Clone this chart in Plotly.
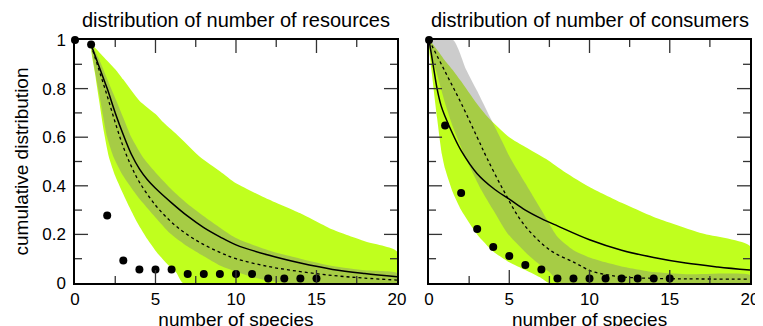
"""Cumulative distributions of resources / consumers per species."""

import plotly.graph_objects as go

# observed points (same for both panels: x = number of species)
pts_x = list(range(16))
res_pts_y = [1.0, 0.981, 0.278, 0.093, 0.056, 0.056, 0.056, 0.037, 0.037, 0.037,
             0.037, 0.037, 0.0185, 0.0185, 0.0185, 0.0185]
con_pts_y = [1.0, 0.648, 0.370, 0.222, 0.148, 0.111, 0.074, 0.056, 0.0185, 0.0185,
             0.0185, 0.0185, 0.0185, 0.0185, 0.0185, 0.0185]

# resources panel: bands and model curves
res_green_up_x = [1, 1.5, 2, 2.5, 3, 4, 5, 5.5, 6.5, 7.75, 9, 10, 12, 14, 16, 18, 20]
res_green_up_y = [0.98, 0.95, 0.915, 0.88, 0.837, 0.75, 0.695, 0.66, 0.6, 0.52, 0.46,
                  0.41, 0.345, 0.287, 0.22, 0.172, 0.13]
res_green_lo_x = [1, 1.25, 1.5, 1.8, 2.1, 2.5, 2.9, 3.4, 3.9, 4.5, 5.1, 5.7, 6.3, 6.7, 10, 15, 20]
res_green_lo_y = [0.98, 0.86, 0.75, 0.62, 0.52, 0.44, 0.38, 0.31, 0.245, 0.18, 0.125,
                  0.08, 0.042, 0.0, 0.0, 0.0, 0.0]
res_gray_up_x = [1, 1.5, 2, 2.6, 3, 3.5, 4.3, 5, 6, 7, 8, 10, 12, 14, 16, 18, 20]
res_gray_up_y = [0.98, 0.92, 0.84, 0.745, 0.68, 0.6, 0.51, 0.455, 0.385, 0.325, 0.275,
                 0.185, 0.135, 0.1, 0.07, 0.052, 0.04]
res_gray_lo_x = [1, 1.5, 2, 2.4, 3, 3.9, 5, 5.9, 7, 8, 9, 10.2, 11, 12, 13, 20]
res_gray_lo_y = [0.98, 0.78, 0.6, 0.518, 0.44, 0.355, 0.27, 0.205, 0.15, 0.11, 0.072,
                 0.042, 0.025, 0.01, 0.0, 0.0]
res_solid_x = [1, 1.5, 2, 2.5, 3, 3.5, 4, 4.5, 5, 6, 7, 8, 9, 10, 12, 14, 16, 18, 20]
res_solid_y = [0.98, 0.89, 0.8, 0.7, 0.61, 0.53, 0.47, 0.425, 0.39, 0.33, 0.275, 0.228,
               0.19, 0.157, 0.115, 0.082, 0.056, 0.039, 0.026]
res_dot_x = [1, 1.5, 2, 2.5, 3, 3.5, 4, 5, 6, 7, 8, 9, 10, 12, 14, 16, 18, 20]
res_dot_y = [0.98, 0.875, 0.77, 0.66, 0.56, 0.48, 0.415, 0.32, 0.25, 0.198, 0.158, 0.126,
             0.1, 0.068, 0.047, 0.031, 0.02, 0.012]

# consumers panel
con_green_up_x = [0, 0.5, 1, 1.5, 2, 2.9, 3.7, 5, 6, 7.3, 8.5, 10, 12, 14, 17, 20]
con_green_up_y = [1.0, 0.96, 0.915, 0.875, 0.83, 0.745, 0.68, 0.6, 0.56, 0.51, 0.455,
                  0.395, 0.33, 0.272, 0.205, 0.152]
con_green_lo_x = [0, 0.2, 0.5, 0.8, 1, 1.5, 2, 3, 4, 5, 6, 7, 7.5, 20]
con_green_lo_y = [1.0, 0.85, 0.68, 0.53, 0.47, 0.37, 0.3, 0.2, 0.13, 0.085, 0.053, 0.02,
                  0.0, 0.0]
con_gray_up_x = [0, 1.5, 2.3, 3, 3.85, 4.5, 5.1, 6, 6.5, 7, 8, 9, 10, 11, 12, 14, 16, 20]
con_gray_up_y = [1.0, 1.0, 0.88, 0.79, 0.676, 0.59, 0.51, 0.41, 0.355, 0.3, 0.19, 0.135,
                 0.105, 0.085, 0.068, 0.045, 0.036, 0.032]
con_gray_lo_x = [0, 0.5, 1, 1.5, 2.26, 3.27, 4, 4.88, 6.27, 7, 7.5, 8.2, 20]
con_gray_lo_y = [1.0, 0.86, 0.74, 0.64, 0.518, 0.382, 0.3, 0.205, 0.11, 0.07, 0.045,
                 0.0, 0.0]
con_solid_x = [0, 0.25, 0.5, 0.75, 1, 1.5, 2, 3, 4, 5, 6, 7, 8, 10, 12, 14, 16, 18, 20]
con_solid_y = [1.0, 0.9, 0.8, 0.73, 0.685, 0.61, 0.545, 0.45, 0.39, 0.345, 0.3, 0.265,
               0.235, 0.178, 0.135, 0.105, 0.082, 0.066, 0.053]
con_dot_x = [0, 1, 2, 3, 3.6, 4.65, 5.85, 7.5, 9.1, 10.1, 11, 12, 14, 16, 20]
con_dot_y = [1.0, 0.87, 0.74, 0.6, 0.515, 0.38, 0.246, 0.137, 0.083, 0.049, 0.035,
             0.025, 0.019, 0.017, 0.016]

# tick positions (inward ticks on all four sides)
x_major_ticks = [5, 10, 15]
x_minor_ticks = [2.5, 7.5, 12.5, 17.5]
y_major_ticks = [0.2, 0.4, 0.6, 0.8]
y_minor_ticks = [0.1, 0.3, 0.5, 0.7, 0.9]

titles = ["distribution of number of resources", "distribution of number of consumers"]

GREEN = "#c0ff1e"
GRAY = "rgba(128,128,128,0.4)"
FONT = "Liberation Sans, Arial, sans-serif"


def band(up_x, up_y, lo_x, lo_y, color, xa, ya):
    xs = list(up_x) + list(reversed(lo_x))
    ys = list(up_y) + list(reversed(lo_y))
    return go.Scatter(x=xs, y=ys, fill="toself", fillcolor=color, mode="lines",
                      line=dict(width=0, shape="spline", smoothing=0.6),
                      xaxis=xa, yaxis=ya, hoverinfo="skip", showlegend=False)


panels = [
    (res_green_up_x, res_green_up_y, res_green_lo_x, res_green_lo_y,
     res_gray_up_x, res_gray_up_y, res_gray_lo_x, res_gray_lo_y,
     res_solid_x, res_solid_y, res_dot_x, res_dot_y, res_pts_y),
    (con_green_up_x, con_green_up_y, con_green_lo_x, con_green_lo_y,
     con_gray_up_x, con_gray_up_y, con_gray_lo_x, con_gray_lo_y,
     con_solid_x, con_solid_y, con_dot_x, con_dot_y, con_pts_y),
]

fig = go.Figure()

for i, p in enumerate(panels):
    xa, ya = ("x", "y") if i == 0 else ("x2", "y2")
    (gux, guy, glx, gly, rux, ruy, rlx, rly, sx, sy, dx, dy, py) = p
    fig.add_trace(band(gux, guy, glx, gly, GREEN, xa, ya))
    fig.add_trace(band(rux, ruy, rlx, rly, GRAY, xa, ya))
    fig.add_trace(go.Scatter(x=dx, y=dy, mode="lines", showlegend=False, xaxis=xa, yaxis=ya,
                             line=dict(color="black", width=1.3, dash="dot", shape="spline")))
    fig.add_trace(go.Scatter(x=sx, y=sy, mode="lines", showlegend=False, xaxis=xa, yaxis=ya,
                             line=dict(color="black", width=1.5, shape="spline")))
    fig.add_trace(go.Scatter(x=pts_x, y=py, mode="markers", showlegend=False,
                             xaxis=xa, yaxis=ya, cliponaxis=False,
                             marker=dict(color="black", size=8)))

tick_font = dict(family=FONT, size=17, color="black")
domains = [[0, 0.477], [0.5245, 1]]

layout = {}
for i in range(2):
    n = "" if i == 0 else "2"
    layout[f"xaxis{n}"] = dict(domain=domains[i], anchor=f"y{n}", range=[0, 20], dtick=5,
                               tick0=0, ticks="", tickfont=tick_font,
                               showline=True, linecolor="black", linewidth=1.5, mirror=True,
                               showgrid=False, zeroline=False,
                               title=dict(text="number of species",
                                          font=dict(family=FONT, size=19), standoff=0))
    layout[f"yaxis{n}"] = dict(domain=[0, 1], anchor=f"x{n}", range=[0, 1], dtick=0.2,
                               tick0=0, ticks="", tickfont=tick_font,
                               showline=True, linecolor="black", linewidth=1.5, mirror=True,
                               showgrid=False, zeroline=False, showticklabels=(i == 0))

layout["yaxis"]["title"] = dict(text="cumulative distribution",
                                font=dict(family=FONT, size=19), standoff=9)
layout["yaxis"]["tickformat"] = "~g"
layout["yaxis"]["ticklabelstandoff"] = 4

fig.update_layout(**layout)

# inward tick marks, placed on the axes' scales, fixed pixel length
tick_line = dict(color="#333", width=1.3)
for i in range(2):
    xr, yr = ("x", "y") if i == 0 else ("x2", "y2")
    left, right = domains[i]
    for vals, ln in ((x_major_ticks, 13), (x_minor_ticks, 7)):
        for v in vals:
            for anchor, sgn in ((0, 1), (1, -1)):
                fig.add_shape(type="line", xref=xr, yref="paper", x0=v, x1=v,
                              ysizemode="pixel", yanchor=anchor, y0=0, y1=sgn * ln,
                              line=tick_line, layer="above")
    for vals, ln in ((y_major_ticks, 13), (y_minor_ticks, 7)):
        for v in vals:
            for anchor, sgn in ((left, 1), (right, -1)):
                fig.add_shape(type="line", xref="paper", yref=yr, y0=v, y1=v,
                              xsizemode="pixel", xanchor=anchor, x0=0, x1=sgn * ln,
                              line=tick_line, layer="above")

for i, t in enumerate(titles):
    fig.add_annotation(text=t, xref=f"x{'' if i == 0 else i + 1} domain", yref="paper",
                       x=0.5, y=1.082, xanchor="center", yanchor="middle",
                       showarrow=False, font=dict(family=FONT, size=20, color="black"))

fig.update_layout(
    width=763, height=326,
    margin=dict(l=57, r=12, t=32, b=49),
    plot_bgcolor="white", paper_bgcolor="white",
    font=dict(family=FONT, color="black"),
)

fig.write_html("out.html")
